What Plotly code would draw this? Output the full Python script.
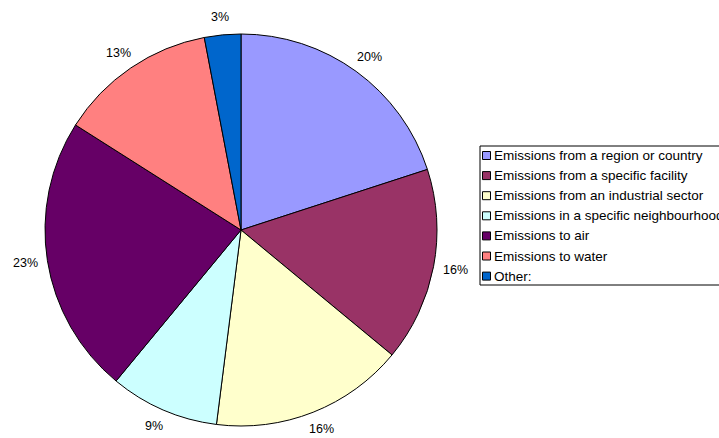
import math
import plotly.graph_objects as go

labels = ["Emissions from a region or country", "Emissions from a specific facility",
          "Emissions from an industrial sector", "Emissions in a specific neighbourhood",
          "Emissions to air", "Emissions to water", "Other:"]
values = [20, 16, 16, 9, 23, 13, 3]
colors = ["#9999FF", "#993366", "#FFFFCC", "#CCFFFF", "#660066", "#FF8080", "#0066CC"]

W, H = 719, 438
cx, cy, r = 241, 230, 196
label_gap = 12          # distance of the label anchor beyond the rim
half_w, half_h = 10, 6  # approximate half box size of a label
FONT = "Liberation Sans, Arial"

def px(x):
    return x / W

def py(y):
    return 1 - y / H

fig = go.Figure(go.Pie(
    labels=labels, values=values, sort=False, direction="clockwise", rotation=0,
    marker=dict(colors=colors, line=dict(color="black", width=1)),
    textinfo="none",
    domain=dict(x=[px(cx - r), px(cx + r)], y=[py(cy + r), py(cy - r)]),
    showlegend=False, hoverinfo="label+value",
))

annotations = []
shapes = []

# percentage labels placed outside the slices along each slice's mid-angle
total = sum(values)
cum = 0
for v in values:
    mid = (cum + v / 2) / total * 2 * math.pi
    cum += v
    s, c = math.sin(mid), math.cos(mid)
    x = cx + (r + label_gap + half_w) * s
    y = cy - (r + label_gap + half_h) * c
    annotations.append(dict(text=f"{round(100 * v / total)}%", xref="paper", yref="paper",
                            x=px(x), y=py(y), xanchor="center", yanchor="middle",
                            showarrow=False, font=dict(family=FONT, size=12.5, color="black")))

# legend box (clipped at the right edge as in the reference)
shapes.append(dict(type="rect", xref="paper", yref="paper", x0=px(480), x1=px(760),
                   y0=py(285), y1=py(146), line=dict(color="black", width=1), fillcolor="white",
                   layer="below"))
for i, (lab, col) in enumerate(zip(labels, colors)):
    yc = 155.5 + i * 20.1
    shapes.append(dict(type="rect", xref="paper", yref="paper", x0=px(482.5), x1=px(490.5),
                       y0=py(yc + 4), y1=py(yc - 4), fillcolor=col, line=dict(color="black", width=1)))
    annotations.append(dict(text=lab, xref="paper", yref="paper", x=px(492), y=py(yc),
                            xanchor="left", yanchor="middle", showarrow=False,
                            font=dict(family=FONT, size=13.5, color="black")))

fig.update_layout(width=W, height=H, margin=dict(l=0, r=0, t=0, b=0),
                  paper_bgcolor="white", plot_bgcolor="white",
                  shapes=shapes, annotations=annotations)
fig.write_html("out.html")
